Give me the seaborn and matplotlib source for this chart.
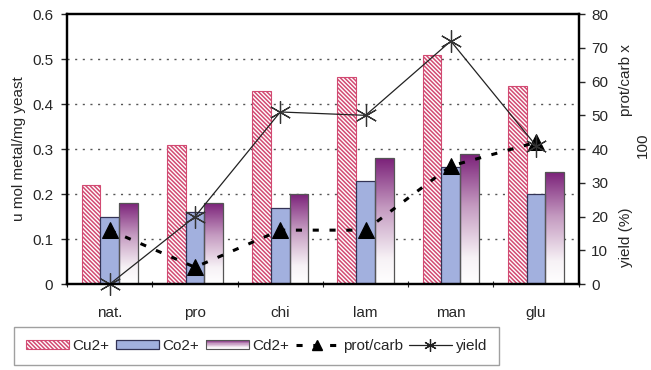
import numpy as np
import pandas as pd
import matplotlib
matplotlib.use("Agg")
import matplotlib.pyplot as plt
import seaborn as sns
from matplotlib.patches import Rectangle
from matplotlib.lines import Line2D
from matplotlib.legend_handler import HandlerBase
from matplotlib.colors import LinearSegmentedColormap

# ---- data ----
samples = ["nat.", "pro", "chi", "lam", "man", "glu"]
cu = [0.22, 0.31, 0.43, 0.46, 0.51, 0.44]
co = [0.15, 0.16, 0.17, 0.23, 0.26, 0.20]
cd = [0.18, 0.18, 0.20, 0.28, 0.29, 0.25]
prot_carb = [16, 5, 16, 16, 35, 42]
yield_pct = [0, 20, 51, 50, 72, 41]
metals = ["Cu2+", "Co2+", "Cd2+"]

sns.set_style("white")
plt.rcParams["font.family"] = ["Liberation Sans", "DejaVu Sans"]
plt.rcParams["hatch.linewidth"] = 1.1

df = pd.DataFrame({
    "sample": samples * 3,
    "value": cu + co + cd,
    "metal": [metals[0]] * 6 + [metals[1]] * 6 + [metals[2]] * 6,
})

fig = plt.figure(figsize=(6.51, 3.70), dpi=100)
ax = fig.add_axes([0.103, 0.232, 0.786, 0.730])

pink = "#D24A72"
blue = "#A2B0DE"
purple = "#7A1F78"
cmap = LinearSegmentedColormap.from_list("cdgrad", [(0, "#FFFFFF"), (0.2, "#F7F2F6"), (0.6, "#C49AC0"), (1, purple)])
FS = 11

sns.barplot(data=df, x="sample", y="value", hue="metal", order=samples,
            hue_order=metals, palette=[blue, blue, blue], width=0.66, gap=0,
            legend=False, ax=ax, saturation=1)

bars = [p for p in ax.patches if isinstance(p, Rectangle)]
grad = np.linspace(0, 1, 256).reshape(-1, 1)
HATCH = "\\" * 8
for i, p in enumerate(bars):
    grp = i // 6
    if grp == 0:
        p.set_facecolor("white")
        p.set_edgecolor(pink)
        p.set_hatch(HATCH)
        p.set_linewidth(0.8)
    elif grp == 1:
        p.set_facecolor(blue)
        p.set_edgecolor("#333355")
        p.set_linewidth(0.9)
    else:
        p.set_facecolor("none")
        p.set_edgecolor("#555555")
        p.set_linewidth(0.9)
        x0, y0 = p.get_x(), p.get_y()
        w, h = p.get_width(), p.get_height()
        im = ax.imshow(grad, cmap=cmap, origin="lower", aspect="auto",
                       extent=[x0, x0 + w, y0, y0 + h], zorder=p.get_zorder() - 0.01,
                       interpolation="bilinear")
        im.set_clip_path(p)

ax.set_xlim(-0.5, 5.5)
ax.set_ylim(0, 0.6)
ax.set_yticks(np.arange(0, 0.61, 0.1))
ax.set_yticklabels(["0", "0.1", "0.2", "0.3", "0.4", "0.5", "0.6"])
ax.set_axisbelow(True)
for yv in np.arange(0.1, 0.51, 0.1):
    ax.axhline(yv, color="#555555", lw=1.0, ls=(0, (1.5, 4)), zorder=0)
ax.set_xlabel("")
ax.set_ylabel("u mol metal/mg yeast", fontsize=FS, labelpad=4)
ax.tick_params(axis="y", direction="out", length=4, width=1, labelsize=FS, left=True, pad=6)
ax.tick_params(axis="x", which="major", length=0, labelsize=FS, pad=16)
ax.set_xticks(np.arange(-0.5, 5.6, 1), minor=True)
ax.tick_params(axis="x", which="minor", direction="inout", length=5, width=0.8, bottom=True)
for s in ax.spines.values():
    s.set_color("black")
    s.set_linewidth(1.6)

ax2 = ax.twinx()
sns.lineplot(x=np.arange(6), y=prot_carb, ax=ax2, color="black", lw=2.2,
             linestyle=(0, (2, 3.5)), marker="^", markersize=11, markeredgecolor="black",
             markerfacecolor="black")
sns.lineplot(x=np.arange(6), y=yield_pct, ax=ax2, color="#222222", lw=0.9,
             marker=(6, 2, 0), markersize=16, markeredgewidth=0.9,
             markeredgecolor="#333333", clip_on=False)
ax2.set_ylim(0, 80)
ax2.set_xlim(-0.5, 5.5)
ax2.set_yticks(np.arange(0, 81, 10))
ax2.tick_params(axis="y", direction="out", length=4, width=1, labelsize=FS, right=True, pad=5)
ax2.set_ylabel("")
for s in ax2.spines.values():
    s.set_color("black")
    s.set_linewidth(1.6)

fig.text(0.961, 0.784, "prot/carb x", rotation=90, ha="center", va="center", fontsize=FS)
fig.text(0.987, 0.608, "100", rotation=90, ha="center", va="center", fontsize=FS)
fig.text(0.961, 0.359, "yield (%)", rotation=90, ha="center", va="center", fontsize=FS)


class GradHandler(HandlerBase):
    def create_artists(self, legend, orig_handle, xdescent, ydescent, width, height, fontsize, trans):
        arts = []
        n = 16
        for k in range(n):
            arts.append(Rectangle((-xdescent, -ydescent + height * k / n), width, height / n + 0.3,
                                  facecolor=cmap((k + 0.5) / n), edgecolor="none", transform=trans))
        arts.append(Rectangle((-xdescent, -ydescent), width, height, facecolor="none",
                              edgecolor="#555555", lw=0.8, transform=trans))
        return arts


h_cu = Rectangle((0, 0), 1, 1, facecolor="white", edgecolor=pink, hatch=HATCH, lw=0.8)
h_co = Rectangle((0, 0), 1, 1, facecolor=blue, edgecolor="#333355", lw=0.9)
h_cd = Rectangle((0, 0), 1, 1, facecolor="none")
h_pc = Line2D([], [], color="black", lw=2.2, linestyle=(0, (2, 3.5)), marker="^", markersize=7)
h_y = Line2D([], [], color="#222222", lw=0.9, marker=(6, 2, 0), markersize=9, markeredgewidth=0.9)

leg = fig.legend([h_cu, h_co, h_cd, h_pc, h_y], ["Cu2+", "Co2+", "Cd2+", "prot/carb", "yield"],
                 handler_map={h_cd: GradHandler()}, ncol=5, loc="center",
                 bbox_to_anchor=(0.014, 0.003, 0.760, 0.124), mode="expand",
                 fontsize=FS, frameon=True, fancybox=False, handlelength=2.8,
                 handleheight=0.55, handletextpad=0.25, columnspacing=0.5, borderpad=0.8,
                 borderaxespad=0.3)
leg.get_frame().set_edgecolor("#888888")
leg.get_frame().set_linewidth(1.0)

fig.savefig("out.png", dpi=100)
